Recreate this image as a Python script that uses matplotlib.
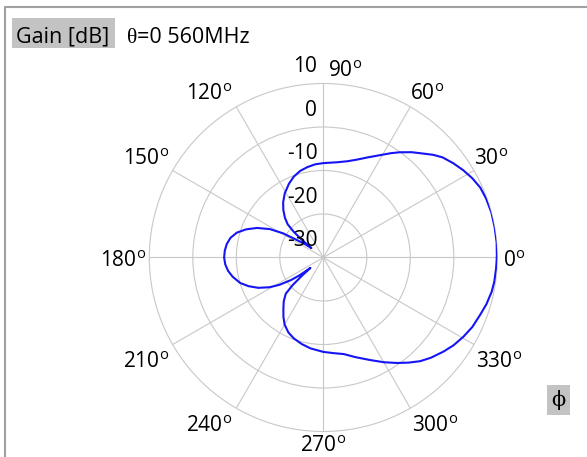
import numpy as np
import matplotlib
matplotlib.use("Agg")
import matplotlib.pyplot as plt
from matplotlib.lines import Line2D
from matplotlib.patches import Rectangle
from matplotlib.transforms import offset_copy

# azimuth cut of the antenna gain, theta = 0, 560 MHz
phi_deg = [0, 5, 10, 15, 20, 24, 28, 32, 36, 40, 43, 46, 50, 54, 57, 61, 66,
           71, 76, 82, 90, 95, 100, 105, 110, 115, 121, 126, 130, 134, 137,
           139, 140.5, 141.5, 143.5, 146, 149, 152, 156, 160, 164, 168, 172,
           176, 180, 184, 188, 192, 197, 201, 205, 209, 212, 215, 217, 219,
           220.5, 222, 224, 228, 232, 236, 240, 245, 250, 256, 262, 270, 276,
           282, 288, 294.5, 300, 305, 309, 313, 317, 322, 326, 330.5, 335,
           340, 344, 348.5, 352, 356.4, 360]
gain_db = [9.9, 10.0, 10.0, 10.0, 9.8, 9.5, 8.8, 7.9, 6.9, 5.8, 4.6, 3.2, 1.6,
           -0.1, -1.4, -3.1, -4.8, -6.2, -7.2, -7.9, -8.3, -8.5, -8.9, -9.4,
           -10.2, -11.3, -12.8, -14.3, -15.7, -17.3, -18.8, -21.0, -23.5, -26.5,
           -25.0, -23.2, -19.2, -16.1, -13.3, -11.1, -9.3, -8.2, -7.6, -7.3,
           -7.2, -7.4, -7.9, -8.7, -10.0, -11.6, -13.5, -15.9, -18.2, -21.0,
           -23.3, -26.2, -23.5, -20.5, -18.0, -16.4, -15.1, -13.6, -12.2,
           -11.0, -10.2, -9.5, -8.9, -8.3, -7.9, -7.3, -5.9, -4.1, -2.2, -0.4,
           1.1, 2.6, 3.8, 5.1, 6.1, 7.0, 7.8, 8.4, 9.0, 9.5, 9.7, 9.8, 9.9]

r_min, r_max = -30, 10
r_ticks = [10, 0, -10, -20, -30]
theta_ticks = list(range(0, 360, 30))

W, H = 587, 457
GRID = "#c8c8c8"
FONT = ["Open Sans", "DejaVu Sans"]

fig = plt.figure(figsize=(W / 100, H / 100), dpi=100)
fig.patch.set_facecolor("white")


def fx(x):
    return x / W


def fy(y):
    return 1 - y / H


# polar axes: centre (323, 257.5), radius 174 px
cx, cy, R = 323.3, 257.5, 174
ax = fig.add_axes([fx(cx - R), fy(cy + R), 2 * R / W, 2 * R / H], projection="polar")
ax.set_ylim(r_min, r_max)
ax.set_yticks([-20, -10, 0])
ax.set_xticks(np.deg2rad(theta_ticks))
ax.set_xticklabels([])
ax.set_yticklabels([])
ax.tick_params(length=0)
ax.grid(True, color=GRID, lw=0.8)
ax.spines["polar"].set_color(GRID)
ax.spines["polar"].set_linewidth(0.8)

ax.plot(np.deg2rad(phi_deg), gain_db, color="#1414f5", lw=1.5, zorder=3,
        solid_joinstyle="round")

# radial labels left of the 90 degree spoke
rlab = offset_copy(ax.transData, fig=fig, x=-6, y=6, units="dots")
for r in r_ticks:
    ax.text(np.pi / 2, r, str(r), ha="right", va="bottom", fontsize=15,
            family=FONT, transform=rlab, clip_on=False, zorder=4)

# angle labels around the rim: (ha, dx, dy) in pixels
placement = {
    0: ("left", 6, -10), 30: ("left", 0, 5), 60: ("left", 0, 7),
    90: ("left", 5, 6), 120: ("right", -4, 7), 150: ("right", -3, 5),
    180: ("right", -3, -10), 210: ("right", -3, -23), 240: ("right", -4, -24),
    270: ("center", 0, -20), 300: ("left", 2, -24), 330: ("left", 2, -23),
}
for deg in theta_ticks:
    ha, dx, dy = placement[deg]
    tr = offset_copy(ax.transData, fig=fig, x=dx, y=dy, units="dots")
    ax.text(np.deg2rad(deg), r_max, f"{deg}$^\\mathregular{{o}}$", ha=ha,
            va="baseline", fontsize=15, family=FONT, transform=tr, clip_on=False)

# header
fig.add_artist(Rectangle((fx(11.7), fy(48.3)), (115 - 11.7) / W, 30 / H,
                         transform=fig.transFigure, color="#c3c3c3", lw=0))
fig.text(fx(16), fy(43), "Gain [dB]", fontsize=15.5, family=FONT, va="baseline")
fig.text(fx(127), fy(43), "\u03b8", fontsize=15.5, family="Liberation Serif",
         va="baseline")
fig.text(fx(137), fy(43), "=0 560MHz", fontsize=15.5, family=FONT, va="baseline")

# phi axis tag
fig.add_artist(Rectangle((fx(546.7), fy(415)), (570 - 546.7) / W, 30 / H,
                         transform=fig.transFigure, color="#c3c3c3", lw=0))
fig.text(fx(558.3), fy(400), "\u03d5", fontsize=15, family="DejaVu Serif",
         ha="center", va="center")

# panel frame (left and top edges)
fig.add_artist(Line2D([fx(5), fx(5), 1], [0, fy(7), fy(7)],
                      transform=fig.transFigure, color="#a0a0a0", lw=1.5))

fig.savefig("out.png", dpi=100)
